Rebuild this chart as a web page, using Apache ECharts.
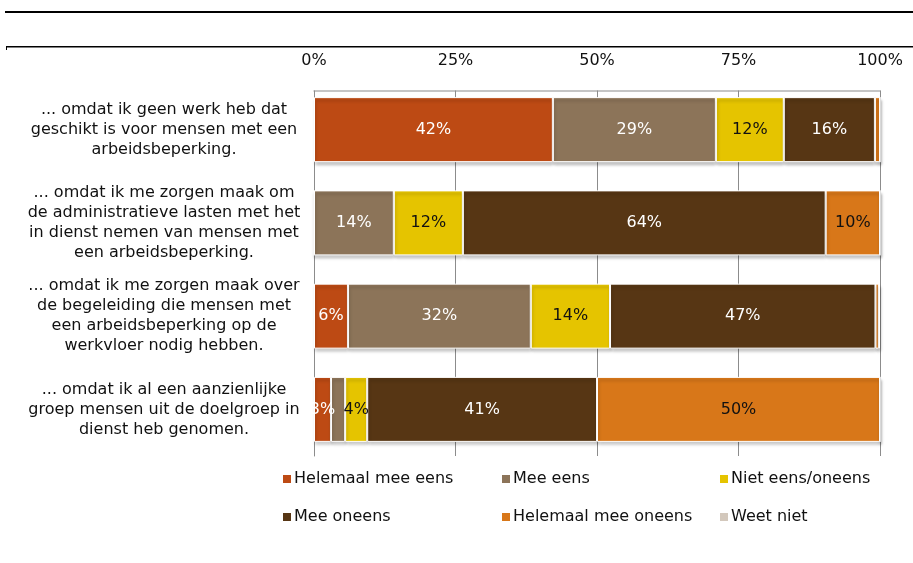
<!DOCTYPE html>
<html><head><meta charset="utf-8">
<script src="https://cdn.jsdelivr.net/npm/echarts@6/dist/echarts.min.js"></script>
<style>html,body{margin:0;padding:0;background:#fff}#c{width:913px;height:563px}</style>
</head><body><div id="c"></div>
<script>
const categories = [
  "... omdat ik geen werk heb dat\ngeschikt is voor mensen met een\narbeidsbeperking.",
  "... omdat ik me zorgen maak om\nde administratieve lasten met het\nin dienst nemen van mensen met\neen arbeidsbeperking.",
  "... omdat ik me zorgen maak over\nde begeleiding die mensen met\neen arbeidsbeperking op de\nwerkvloer nodig hebben.",
  "... omdat ik al een aanzienlijke\ngroep mensen uit de doelgroep in\ndienst heb genomen."
];
const seriesNames = ["Helemaal mee eens", "Mee eens", "Niet eens/oneens", "Mee oneens", "Helemaal mee oneens", "Weet niet"];
const helemaalMeeEens   = [42.2, 0,    6.0,  3.0];
const meeEens           = [28.8, 14.1, 32.3, 2.5];
const nietEensOneens    = [12.0, 12.2, 14.0, 3.9];
const meeOneens         = [16.1, 64.1, 46.9, 40.6];
const helemaalMeeOneens = [0.9,  9.6,  0.6,  50.0];
const weetNiet          = [0,    0,    0.2,  0];
const xTicks = [0, 25, 50, 75, 100];

const colors = ["#BD4A14", "#8C7459", "#E5C400", "#573614", "#D87719", "#D3C8BC"];
const labelColors = ["#fff", "#fff", "#111", "#fff", "#111", "#111"];
const values = [helemaalMeeEens, meeEens, nietEensOneens, meeOneens, helemaalMeeOneens, weetNiet];
const FONT = "DejaVu Sans";
const FS = 16;

const chart = echarts.init(document.getElementById('c'));
const series = seriesNames.map((n, i) => ({
  name: n, type: 'bar', stack: 'total', barWidth: 65,
  data: values[i],
  itemStyle: { color: colors[i], borderColor: '#ffffff', borderWidth: 1,
    shadowColor: 'rgba(0,0,0,0.25)', shadowBlur: 3, shadowOffsetX: 1, shadowOffsetY: 3 },
  label: { show: true, position: 'inside', color: labelColors[i], fontFamily: FONT, fontSize: FS,
    formatter: p => p.value >= 2.8 ? Math.round(p.value) + '%' : '' }
}));

function legendCol(names, left) {
  return { data: names, orient: 'vertical', left: left, top: 466, itemWidth: 8, itemHeight: 8,
    itemGap: 22, icon: 'rect', itemStyle: {borderWidth: 0},
    textStyle: { fontFamily: FONT, fontSize: FS, color: '#111', padding: [0,0,0,-2] } };
}

chart.setOption({
  animation: false,
  textStyle: { fontFamily: FONT },
  grid: { left: 314, right: 33, top: 83, bottom: 107, containLabel: false },
  xAxis: {
    type: 'value', position: 'top', min: 0, max: 100, interval: 25,
    axisLine: { show: false },
    axisTick: { show: false },
    splitLine: { show: true, lineStyle: { color: '#8c8c8c', width: 1 } },
    axisLabel: { formatter: v => xTicks.includes(v) ? v + '%' : '', fontFamily: FONT, fontSize: FS, color: '#111', margin: 14 }
  },
  yAxis: {
    type: 'category', inverse: true, data: categories,
    axisLine: { show: true, lineStyle: { color: '#8c8c8c', width: 1 } },
    axisTick: { show: false },
    axisLabel: { align: 'center', margin: 150, fontFamily: FONT, fontSize: FS, lineHeight: 20, color: '#111' }
  },
  legend: [
    legendCol([seriesNames[0], seriesNames[3]], 278),
    legendCol([seriesNames[1], seriesNames[4]], 497),
    legendCol([seriesNames[2], seriesNames[5]], 715)
  ],
  graphic: [
    { type: 'rect', z: 100, shape: { x: 5, y: 11, width: 908, height: 2 }, style: { fill: '#000' } },
    { type: 'rect', z: 100, shape: { x: 6, y: 46, width: 907, height: 1.5 }, style: { fill: '#000' } },
    { type: 'rect', z: 100, shape: { x: 6, y: 46, width: 1, height: 4 }, style: { fill: '#000' } },
    { type: 'rect', z: 100, shape: { x: 305, y: 80, width: 590, height: 10.5 }, style: { fill: '#fff' } },
    { type: 'rect', z: 101, shape: { x: 313.5, y: 90.5, width: 567, height: 1 }, style: { fill: '#8c8c8c' } }
  ],
  series: series
});
</script></body></html>
